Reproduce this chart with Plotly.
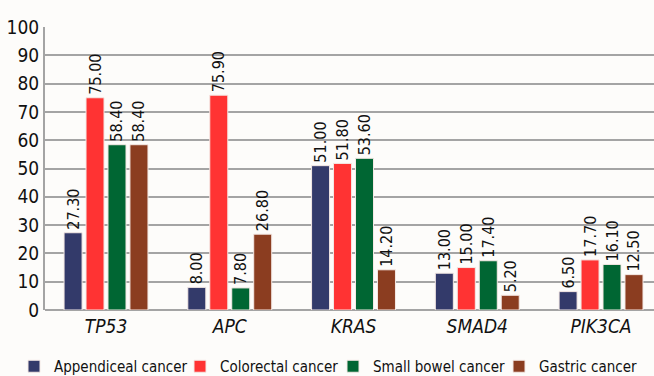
import plotly.graph_objects as go

genes = ["TP53", "APC", "KRAS", "SMAD4", "PIK3CA"]
appendiceal = [27.30, 8.00, 51.00, 13.00, 6.50]
colorectal = [75.00, 75.90, 51.80, 15.00, 17.70]
small_bowel = [58.40, 7.80, 53.60, 17.40, 16.10]
gastric = [58.40, 26.80, 14.20, 5.20, 12.50]

series = [
    ("Appendiceal cancer", appendiceal, "#333A6A"),
    ("Colorectal cancer", colorectal, "#FF3333"),
    ("Small bowel cancer", small_bowel, "#006633"),
    ("Gastric cancer", gastric, "#8B3D20"),
]

FONT = "DejaVu Sans Condensed, Liberation Sans Narrow, sans-serif"

L, R, T, B = 45, 0, 27, 66
W, H = 654, 376
pw = W - L - R
ph = H - T - B

# legend text start pixels (from reference)
leg_px = [54, 220, 373, 539]

fig = go.Figure()
for i, (name, vals, col) in enumerate(series):
    lname = "legend" if i == 0 else f"legend{i+1}"
    fig.add_trace(go.Bar(
        x=genes, y=vals, name=name,
        marker=dict(color=col, line=dict(color="#F4E8E4", width=1)),
        text=[f"{v:.2f}" for v in vals],
        textposition="outside", textangle=-90, constraintext="none",
        textfont=dict(family=FONT, size=16, color="#111111"),
        cliponaxis=False,
        legend=lname,
    ))

layout_legends = {}
for i, px in enumerate(leg_px):
    lname = "legend" if i == 0 else f"legend{i+1}"
    layout_legends[lname] = dict(
        x=(px - 40 - L) / pw, xanchor="left",
        y=-(B + 7) / ph, yanchor="bottom",
        orientation="h", itemwidth=30,
        font=dict(family=FONT, size=15, color="#111111"),
        bgcolor="rgba(0,0,0,0)", borderwidth=0,
    )

fig.update_layout(
    width=W, height=H,
    margin=dict(l=L, r=R, t=T, b=B, autoexpand=False),
    paper_bgcolor="#FDFCFA", plot_bgcolor="#FDFCFA",
    barmode="group", bargap=0.29, bargroupgap=0.18,
    font=dict(family=FONT, size=16, color="#111111"),
    showlegend=True,
    **layout_legends,
)
fig.update_xaxes(
    range=[-0.493, 4.428],
    tickvals=genes, ticktext=[f"<i>{g}</i>" for g in genes],
    tickfont=dict(family=FONT, size=19),
    showline=False, ticks="", ticklabelstandoff=3,
)
fig.update_yaxes(
    range=[0, 100], dtick=10,
    showgrid=True, gridcolor="#A4A4A4", gridwidth=2,
    showline=True, linecolor="#A4A4A4", linewidth=2,
    zeroline=True, zerolinecolor="#A4A4A4", zerolinewidth=2,
    tickfont=dict(family=FONT, size=19),
    ticks="", ticklabelstandoff=0,
)
fig.write_html("out.html")
